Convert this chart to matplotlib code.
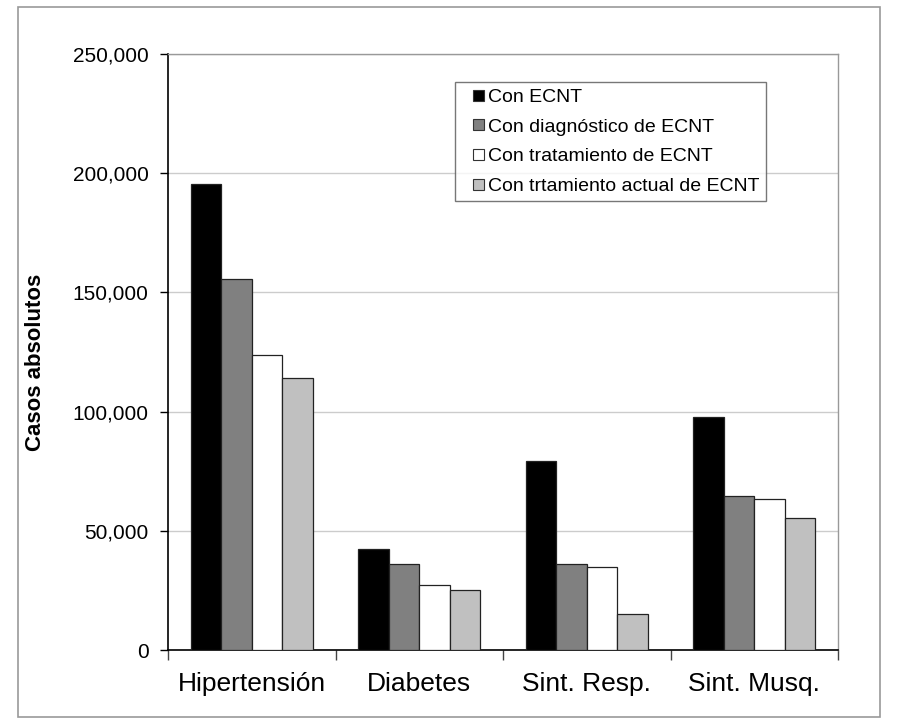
import matplotlib
matplotlib.use("Agg")
import matplotlib.pyplot as plt
import numpy as np
from matplotlib.patches import Rectangle
from matplotlib.container import BarContainer
from matplotlib.legend_handler import HandlerPatch, update_from_first_child
from matplotlib.ticker import FuncFormatter, FixedLocator

plt.rcParams['font.family'] = ['Liberation Sans', 'DejaVu Sans']

categories = ["Hipertensión", "Diabetes", "Sint. Resp.", "Sint. Musq."]
series_names = ["Con ECNT", "Con diagnóstico de ECNT", "Con tratamiento de ECNT",
                "Con trtamiento actual de ECNT"]
con_ecnt = [195500, 42500, 79300, 97700]
con_diag = [155600, 36200, 36000, 64500]
con_trat = [123700, 27300, 35000, 63200]
con_trat_actual = [114000, 25000, 15000, 55500]
series_values = [con_ecnt, con_diag, con_trat, con_trat_actual]
colors = ["#000000", "#808080", "#ffffff", "#c0c0c0"]
yticks = [0, 50000, 100000, 150000, 200000, 250000]

W, H = 907, 725
fig = plt.figure(figsize=(W / 100, H / 100), dpi=100)
ax = fig.add_axes([168 / W, 1 - 650 / H, (838 - 168) / W, (650 - 54) / H])

x = np.arange(len(categories))
bw = 0.182
for i, (vals, c, name) in enumerate(zip(series_values, colors, series_names)):
    ax.bar(x + (i - 1.5) * bw, vals, width=bw, color=c, edgecolor="#222222",
           linewidth=0.9, label=name, zorder=3)

ax.set_xlim(-0.5, len(categories) - 0.5)
ax.set_ylim(0, 250000)
ax.set_yticks(yticks)
ax.yaxis.set_major_formatter(FuncFormatter(lambda v, p: f"{int(v):,}"))
ax.tick_params(axis='y', labelsize=15, length=6, width=1, pad=8, color="#000000")
ax.grid(axis='y', color="#cccccc", linewidth=1, zorder=0)

ax.xaxis.set_major_locator(FixedLocator(np.arange(-0.5, len(categories), 1.0)))
ax.xaxis.set_major_formatter(FuncFormatter(lambda v, p: ""))
ax.xaxis.set_minor_locator(FixedLocator(x))
ax.set_xticklabels(categories, minor=True)
ax.tick_params(axis='x', which='major', length=7, width=1, color="#444444")
ax.tick_params(axis='x', which='minor', length=0, labelsize=19, pad=16)

for s in ['top', 'right']:
    ax.spines[s].set_color("#999999")
    ax.spines[s].set_linewidth(1)
ax.spines['left'].set_color("#000000")
ax.spines['bottom'].set_color("#000000")
ax.spines['left'].set_linewidth(1.2)
ax.spines['bottom'].set_linewidth(1.2)

ax.set_ylabel("Casos absolutos", fontsize=16, fontweight='bold')
ax.yaxis.set_label_coords((46 - 168) / 670, (650 - 362) / 596)


def square_right(legend, orig_handle, xdescent, ydescent, width, height, fontsize):
    s = 11 * 72 / 100
    return Rectangle((-xdescent + width - s, -ydescent + (height - s) / 2), s, s)


leg = ax.legend(loc='upper left', bbox_to_anchor=((455 - 168) / 670, (650 - 82) / 596),
                fontsize=14, frameon=True, fancybox=False, edgecolor="#555555",
                handlelength=1.18, handleheight=0.7, handletextpad=0.2,
                labelspacing=0.62, borderpad=0.33, borderaxespad=0,
                handler_map={BarContainer: HandlerPatch(patch_func=square_right,
                                                        update_func=update_from_first_child)})
leg.get_frame().set_linewidth(1)
for h in leg.legend_handles:
    h.set_edgecolor("#333333")
    h.set_linewidth(0.8)

fig.patches.append(Rectangle((18 / W, 1 - 717 / H), (880 - 18) / W, (717 - 7) / H,
                             transform=fig.transFigure, fill=False,
                             edgecolor="#999999", linewidth=1.2))

fig.savefig("out.png", dpi=100)
